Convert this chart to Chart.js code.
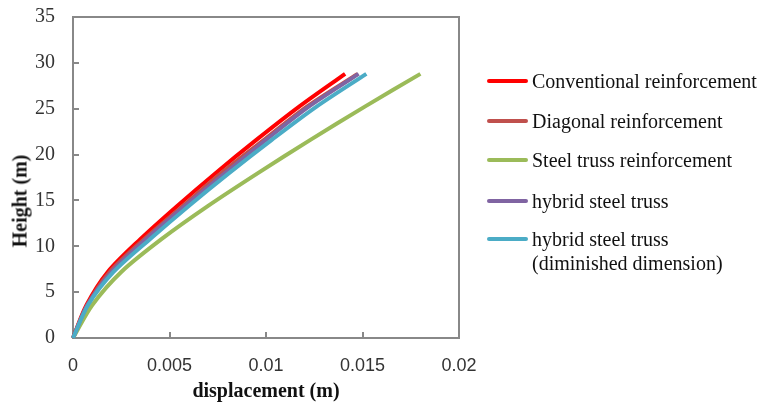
<!DOCTYPE html>
<html>
<head>
<meta charset="utf-8">
<script src="https://cdn.jsdelivr.net/npm/chart.js@4.4.1/dist/chart.umd.min.js"></script>
<style>
  html, body { margin: 0; padding: 0; background: #fff; }
  #wrap { position: relative; width: 761px; height: 407px; }
  #yTitle {
    position: absolute; left: 20px; top: 201px;
    transform: translate(-50%, -50%) rotate(-90deg);
    font: bold 20px "Liberation Serif", serif; color: #111; white-space: nowrap;
  }
  #legend { position: absolute; left: 487px; top: 0; font: 20px "Liberation Serif", serif; color: #111; }
  .item { position: absolute; left: 0; display: flex; align-items: flex-start; white-space: nowrap; line-height: 24px; }
  .swatch { width: 41px; height: 4px; margin-top: 10px; margin-right: 4px; border-radius: 2px; }
</style>
</head>
<body>
<div id="wrap">
  <canvas id="chart" width="761" height="407"></canvas>
  <div id="yTitle">Height (m)</div>
  <div id="legend"></div>
</div>
<script>
// heights of storey levels (m)
const heights = [0, 3.6, 7.2, 10.8, 14.4, 18, 21.6, 25.2, 28.8];

// lateral displacement at each level (m)
const conventional = [0, 0.0007, 0.0018, 0.0035, 0.0054, 0.0074, 0.0095, 0.0117, 0.0141];
const diagonal     = [0, 0.00074, 0.0019, 0.0037, 0.0057, 0.0077, 0.0099, 0.0121, 0.01475];
const steelTruss   = [0, 0.0010, 0.0025, 0.0046, 0.0070, 0.0096, 0.0123, 0.0151, 0.0180];
const hybrid       = [0, 0.00075, 0.0020, 0.0038, 0.0058, 0.0079, 0.0100, 0.0122, 0.0148];
const hybridDim    = [0, 0.00078, 0.0021, 0.0040, 0.0060, 0.0081, 0.0103, 0.0126, 0.0152];

const seriesNames = [
  "Conventional reinforcement",
  "Diagonal reinforcement",
  "Steel truss reinforcement",
  "hybrid steel truss",
  ["hybrid steel truss", "(diminished dimension)"],
];
const seriesColors = ["#FF0000", "#C0504D", "#9BBB59", "#8064A2", "#4BACC6"];
const seriesData = [conventional, diagonal, steelTruss, hybrid, hybridDim];

const xTicks = [0, 0.005, 0.01, 0.015, 0.02];
const yTicks = [0, 5, 10, 15, 20, 25, 30, 35];

const AXIS_GRAY = "#888888";

// draws the plot frame and inward tick marks like the original
const framePlugin = {
  id: "frame",
  beforeDatasetsDraw(chart) {
    const { ctx, chartArea: a, scales } = chart;
    ctx.save();
    ctx.strokeStyle = AXIS_GRAY;
    ctx.lineWidth = 2;
    ctx.strokeRect(a.left, a.top, a.right - a.left, a.bottom - a.top);
    ctx.beginPath();
    xTicks.slice(1, -1).forEach((v) => {
      const px = Math.round(scales.x.getPixelForValue(v));
      ctx.moveTo(px, a.bottom);
      ctx.lineTo(px, a.bottom - 6);
    });
    yTicks.slice(1, -1).forEach((v) => {
      const py = Math.round(scales.y.getPixelForValue(v));
      ctx.moveTo(a.left, py);
      ctx.lineTo(a.left + 6, py);
    });
    ctx.stroke();
    ctx.restore();
  },
};

const datasets = seriesData.map((xs, i) => ({
  label: Array.isArray(seriesNames[i]) ? seriesNames[i].join(" ") : seriesNames[i],
  data: xs.map((x, j) => ({ x, y: heights[j] })),
  borderColor: seriesColors[i],
  backgroundColor: seriesColors[i],
  borderWidth: 4,
  pointRadius: 0,
  tension: 0.3,
  clip: 6,
  order: seriesData.length - i,
}));

new Chart(document.getElementById("chart"), {
  type: "line",
  data: { datasets },
  options: {
    responsive: false,
    animation: false,
    layout: { padding: { top: 17, right: 302, left: 0, bottom: 0 } },
    plugins: { legend: { display: false }, tooltip: { enabled: false } },
    scales: {
      x: {
        type: "linear",
        min: 0,
        max: 0.02,
        afterFit: (s) => { s.height = 69; },
        afterBuildTicks: (s) => { s.ticks = xTicks.map((v) => ({ value: v })); },
        grid: { display: false, drawTicks: false },
        border: { display: false },
        ticks: {
          padding: 17,
          color: "#333",
          font: { family: "Liberation Sans", size: 18 },
          callback: (v) => String(+v.toFixed(3)),
        },
        title: {
          display: true,
          text: "displacement (m)",
          color: "#111",
          font: { family: "Liberation Serif", size: 20, weight: "bold" },
          padding: { top: 0, bottom: 3 },
        },
      },
      y: {
        type: "linear",
        min: 0,
        max: 35,
        afterFit: (s) => {
          s.width = 73;
          s.paddingTop = 0;
          s.paddingBottom = 0;
        },
        afterBuildTicks: (s) => { s.ticks = yTicks.map((v) => ({ value: v })); },
        grid: { display: false, drawTicks: false },
        border: { display: false },
        ticks: {
          padding: 18,
          color: "#333",
          font: { family: "Liberation Serif", size: 20 },
        },
      },
    },
  },
  plugins: [framePlugin],
});

// legend, built from the same series lists
const legendCenters = [81, 121, 160, 201, 239];
const legendEl = document.getElementById("legend");
seriesNames.forEach((name, i) => {
  const item = document.createElement("div");
  item.className = "item";
  item.style.top = legendCenters[i] - 12 + "px";
  const sw = document.createElement("div");
  sw.className = "swatch";
  sw.style.background = seriesColors[i];
  const txt = document.createElement("div");
  txt.innerHTML = (Array.isArray(name) ? name : [name]).join("<br>");
  item.appendChild(sw);
  item.appendChild(txt);
  legendEl.appendChild(item);
});
</script>
</body>
</html>
